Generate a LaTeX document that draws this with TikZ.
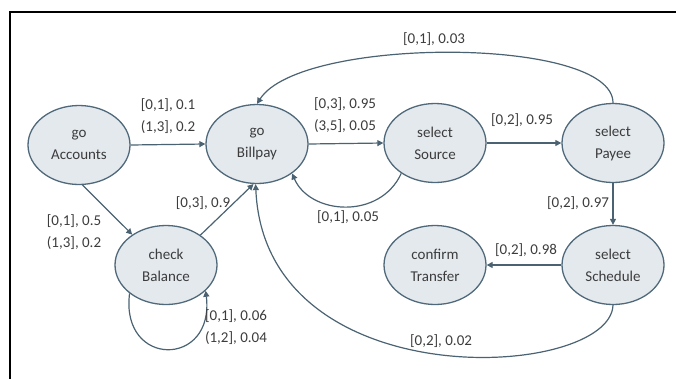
\documentclass[tikz,border=0pt]{standalone}
\usepackage{fontspec}
\setmainfont{Carlito}
\usetikzlibrary{shapes.geometric,arrows.meta}
\definecolor{stateFill}{HTML}{E4E9EE}
\definecolor{stateLine}{HTML}{50697A}
\definecolor{edgeLine}{HTML}{4A6272}
\definecolor{txt}{HTML}{3C3C3C}
\tikzset{
  state/.style={ellipse, draw=stateLine, fill=stateFill, line width=1.3pt,
    minimum width=102pt, minimum height=79pt, inner sep=0pt,
    align=center, text=txt, font=\fontsize{15}{22}\selectfont},
  lbl/.style={align=center, text=txt, inner sep=0pt, font=\fontsize{15}{22}\selectfont},
  trans/.style={draw=edgeLine, line width=1.2pt, -{Triangle[length=6pt,width=6pt]}},
}
\begin{document}
\begin{tikzpicture}[x=1pt,y=-1pt]
\useasboundingbox (0,0) rectangle (676,378);
% frame
\draw[line width=2.5pt, line cap=rect] (10,378) -- (10,12) -- (676,12);

% states
\node[state] (acc) at (79,145) {go\\Accounts};
\node[state] (bill) at (257,144) {go\\Billpay};
\node[state] (src) at (435,143) {select\\Source};
\node[state] (pay) at (613,143) {select\\Payee};
\node[state] (bal) at (166,265) {check\\Balance};
\node[state] (trn) at (435,265) {confirm\\Transfer};
\node[state] (sch) at (613,265) {select\\Schedule};

% transitions
\draw[trans] (acc.east) -- (bill.west);
\draw[trans] (acc.-85) -- (bal.138);
\draw[trans] (bal.41) -- (bill.-95);
\draw[trans] (bill.east) -- (src.west);
\draw[trans] (src.-138) .. controls (380,220) and (310,215) .. (bill.-40);
\draw[trans] (src.east) -- (pay.west);
\draw[trans] (pay.north) .. controls (613,36) and (300,36) .. (bill.north);
\draw[trans] (pay.south) -- (sch.north);
\draw[trans] (sch.west) -- (trn.east);
\draw[trans] (sch.south) .. controls (610,380) and (265,400) .. (bill.-92);
\draw[trans] (bal.-142) .. controls (120,368) and (215,368) .. (bal.-33);

% transition labels
\node[lbl] (l1) at (168,116) {[0,1], 0.1\\(1,3], 0.2};
\node[lbl] (l2) at (74,232) {[0,1], 0.5\\(1,3], 0.2};
\node[lbl] (l3) at (203,203) {[0,3], 0.9};
\node[lbl] (l4) at (345,115) {[0,3], 0.95\\(3,5], 0.05};
\node[lbl] (l5) at (348,217) {[0,1], 0.05};
\node[lbl] (l6) at (522,120) {[0,2], 0.95};
\node[lbl] (l7) at (434,39) {[0,1], 0.03};
\node[lbl] (l8) at (578,203) {[0,2], 0.97};
\node[lbl] (l9) at (526,250) {[0,2], 0.98};
\node[lbl] (l10) at (441,341) {[0,2], 0.02};
\node[lbl] (l11) at (236,327) {[0,1], 0.06\\(1,2], 0.04};
\end{tikzpicture}
\end{document}
